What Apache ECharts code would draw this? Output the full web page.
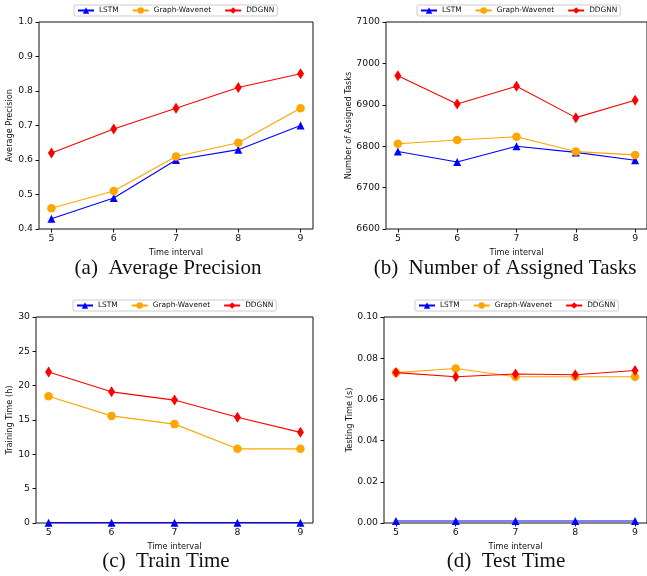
<!DOCTYPE html>
<html>
<head>
<meta charset="utf-8">
<script src="https://cdn.jsdelivr.net/npm/echarts@6/dist/echarts.min.js"></script>
<style>
html, body { margin: 0; padding: 0; background: #fff; overflow: hidden; }
#main { width: 647px; height: 576px; }
</style>
</head>
<body>
<div id="main"></div>
<script>
// 数据
var timeIntervals = [5, 6, 7, 8, 9];
var seriesNames = ['LSTM', 'Graph-Wavenet', 'DDGNN'];

// (a) Average Precision
var apLSTM = [0.43, 0.49, 0.60, 0.63, 0.70];
var apWavenet = [0.46, 0.51, 0.61, 0.65, 0.75];
var apDDGNN = [0.62, 0.69, 0.75, 0.81, 0.85];

// (b) Number of Assigned Tasks
var taskLSTM = [6787, 6762, 6800, 6785, 6766];
var taskWavenet = [6806, 6815, 6823, 6787, 6779];
var taskDDGNN = [6970, 6902, 6945, 6869, 6911];

// (c) Train Time
var trainLSTM = [0.05, 0.05, 0.05, 0.05, 0.05];
var trainWavenet = [18.45, 15.6, 14.4, 10.8, 10.8];
var trainDDGNN = [22.0, 19.1, 17.9, 15.4, 13.2];

// (d) Test Time
var testLSTM = [0.001, 0.001, 0.001, 0.001, 0.001];
var testWavenet = [0.073, 0.075, 0.071, 0.071, 0.071];
var testDDGNN = [0.073, 0.071, 0.0723, 0.072, 0.074];

var captions = ['(a)  Average Precision', '(b)  Number of Assigned Tasks', '(c)  Train Time', '(d)  Test Time'];
var yNames = ['Average Precision', 'Number of Assigned Tasks', 'Training Time (h)', 'Testing Time (s)'];

var myChart = echarts.init(document.getElementById('main'));

var colors = ['#0000ff', '#ffa500', '#ff0000'];
var symbols = ['triangle', 'circle', 'diamond'];
var symbolSizes = [8, 8.5, [7, 11]];

function pairs(vals) {
    return timeIntervals.map(function (t, i) { return [t, vals[i]]; });
}

var grids = [
    { left: 39, top: 22, width: 274, height: 207 },
    { left: 386, top: 22, width: 265, height: 207 },
    { left: 36, top: 317, width: 277, height: 206 },
    { left: 384, top: 317, width: 267, height: 206 }
];
grids.forEach(function (g) {
    g.show = true;
    g.borderColor = '#111';
    g.borderWidth = 1;
    g.backgroundColor = 'transparent';
});

var xAxes = grids.map(function (g, i) {
    return {
        type: 'value',
        gridIndex: i,
        min: 4.8,
        max: 9.2,
        name: 'Time interval',
        nameLocation: 'middle',
        nameGap: 20,
        nameTextStyle: { fontFamily: 'DejaVu Sans', fontSize: 8.2, color: '#111' },
        splitLine: { show: false },
        axisLine: { show: false },
        axisTick: { show: true, length: 3.5, lineStyle: { color: '#111' }, customValues: timeIntervals },
        axisLabel: { fontFamily: 'DejaVu Sans', fontSize: 9.3, color: '#111', margin: 5, customValues: timeIntervals }
    };
});

var yCfg = [
    { min: 0.4, max: 1.0, interval: 0.1, digits: 1, gap: 22 },
    { min: 6600, max: 7100, interval: 100, digits: 0, gap: 30 },
    { min: 0, max: 30, interval: 5, digits: 0, gap: 19 },
    { min: 0, max: 0.1, interval: 0.02, digits: 2, gap: 28 }
];
var yAxes = yCfg.map(function (c, i) {
    return {
        type: 'value',
        gridIndex: i,
        min: c.min,
        max: c.max,
        interval: c.interval,
        name: yNames[i],
        nameLocation: 'middle',
        nameGap: c.gap,
        nameTextStyle: { fontFamily: 'DejaVu Sans', fontSize: 8.2, color: '#111' },
        splitLine: { show: false },
        axisLine: { show: false },
        axisTick: { show: true, length: 3.5, lineStyle: { color: '#111' } },
        axisLabel: {
            fontFamily: 'DejaVu Sans', fontSize: 9.3, color: '#111', margin: 6,
            formatter: function (v) { return v.toFixed(c.digits); }
        }
    };
});

var allData = [
    [apLSTM, apWavenet, apDDGNN],
    [taskLSTM, taskWavenet, taskDDGNN],
    [trainLSTM, trainWavenet, trainDDGNN],
    [testLSTM, testWavenet, testDDGNN]
];

var series = [];
allData.forEach(function (group, gi) {
    group.forEach(function (vals, si) {
        series.push({
            name: seriesNames[si],
            type: 'line',
            xAxisIndex: gi,
            yAxisIndex: gi,
            data: pairs(vals),
            symbol: symbols[si],
            symbolSize: symbolSizes[si],
            showAllSymbol: true,
            color: colors[si],
            lineStyle: { width: 1.1, color: colors[si] },
            itemStyle: { color: colors[si] },
            z: 2 + si,
            animation: false
        });
    });
});

var legendPos = [
    { left: 74, top: 5 },
    { left: 417, top: 5 },
    { left: 73, top: 300 },
    { left: 415, top: 300 }
];
var legends = legendPos.map(function (p) {
    return {
        left: p.left,
        top: p.top,
        data: seriesNames,
        itemWidth: 16,
        itemHeight: 8,
        itemGap: 13,
        padding: [2, 3, 2, 3],
        borderColor: '#ccc',
        borderWidth: 1,
        borderRadius: 2,
        textStyle: { fontFamily: 'DejaVu Sans', fontSize: 7.4, color: '#111' },
        selectedMode: false
    };
});

var capPos = [[168, 258], [505, 258], [166, 551], [506, 551]];
var titles = captions.map(function (t, i) {
    return {
        text: t,
        left: capPos[i][0],
        top: capPos[i][1],
        textAlign: 'center',
        padding: 0,
        textStyle: { fontFamily: 'Liberation Serif', fontSize: 21, fontWeight: 'normal', color: '#111' }
    };
});

var option = {
    backgroundColor: '#fff',
    animation: false,
    title: titles,
    legend: legends,
    grid: grids,
    xAxis: xAxes,
    yAxis: yAxes,
    series: series
};

myChart.setOption(option);
</script>
</body>
</html>
